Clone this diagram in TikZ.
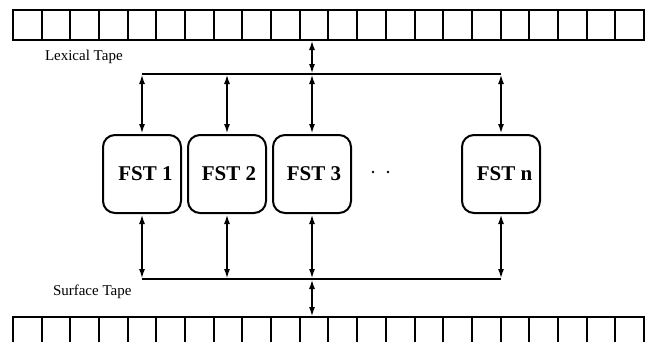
\documentclass[tikz,border=0pt]{standalone}
\usepackage{fontspec}
\setmainfont{Liberation Serif}
\usetikzlibrary{arrows.meta}
\begin{document}
\begin{tikzpicture}[x=1pt,y=-1pt,
  line width=2pt,
  fstbox/.style={draw, rounded corners=12pt, minimum width=78pt, minimum height=78pt, inner sep=0pt,
    font=\fontsize{21}{22}\selectfont\bfseries},
  link/.style={{Latex[length=10pt,width=6pt]}-{Latex[length=10pt,width=6pt]}},
  tapelabel/.style={font=\fontsize{15}{16}\selectfont, anchor=west, inner sep=0pt},
  cell/.style={draw, line width=2pt}]
\useasboundingbox (0,0) rectangle (652,341);
\fill[white] (0,0) rectangle (652,341);
\clip (0,0) rectangle (652,341);
% tapes
\foreach \i in {0,...,21} {
  \draw[cell] (13+\i*28.68,10) rectangle (13+\i*28.68+28.68,40);
  \draw[cell] (13+\i*28.68,317) rectangle (13+\i*28.68+28.68,360);
}
% labels
\node[tapelabel] (lexlabel) at (44,57) {Lexical Tape};
\node[tapelabel] (surflabel) at (52,292) {Surface Tape};
% FST boxes
\node[fstbox] (fst1) at (142,174) {\hspace*{7pt}FST 1};
\node[fstbox] (fst2) at (227,174) {\hspace*{4pt}FST 2};
\node[fstbox] (fst3) at (312,174) {\hspace*{4pt}FST 3};
\node[fstbox] (fstn) at (501,174) {\hspace*{7pt}FST n};
\fill (373,172) circle (1.4);
\fill (388,172) circle (1.4);
% coordinates
\coordinate (lt) at (312,40);
\coordinate (st) at (312,317);
\coordinate (tb) at (312,74);
\coordinate (bb) at (312,279);
% buses
\draw (fst1.north |- tb) -- (fstn.north |- tb);
\draw (fst1.south |- bb) -- (fstn.south |- bb);
% connectors
\draw[link] (lt) -- (tb);
\draw[link] (bb) -- (st);
\foreach \n in {fst1,fst2,fst3,fstn} {
  \draw[link] (\n.north |- tb) -- (\n.north);
  \draw[link] (\n.south) -- (\n.south |- bb);
}
\end{tikzpicture}
\end{document}
